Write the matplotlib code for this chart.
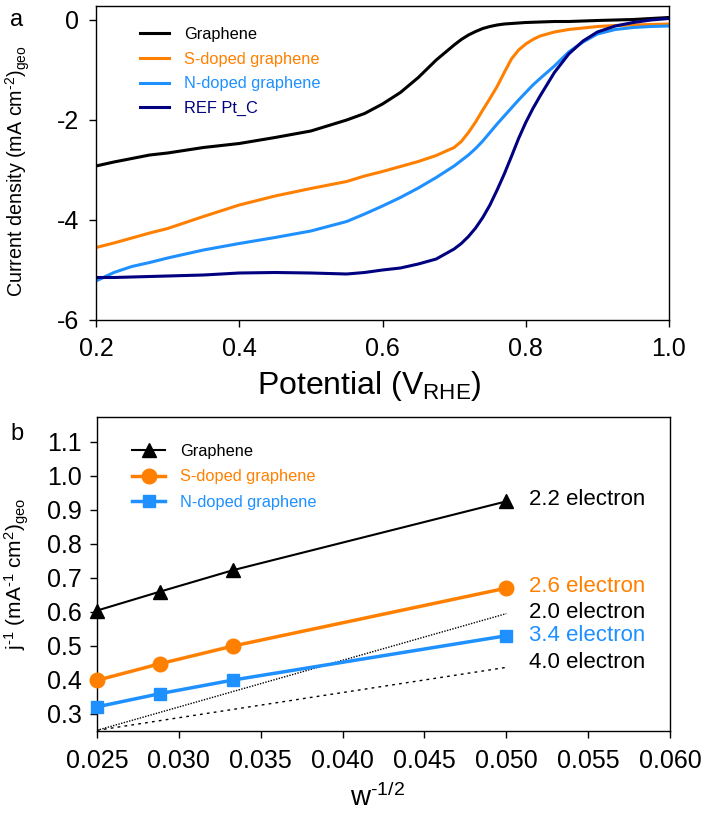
import matplotlib
matplotlib.use("Agg")
import matplotlib.pyplot as plt
import numpy as np

plt.rcParams['font.family'] = ['Liberation Sans', 'DejaVu Sans']
plt.rcParams['mathtext.fontset'] = 'custom'
plt.rcParams['mathtext.rm'] = 'Liberation Sans'
plt.rcParams['mathtext.it'] = 'Liberation Sans:italic'
plt.rcParams['mathtext.default'] = 'regular'
plt.rcParams['axes.unicode_minus'] = False

# ---------------- Panel a data (LSV) ----------------
potential = [0.20, 0.225, 0.25, 0.275, 0.30, 0.35, 0.40, 0.45, 0.50, 0.55, 0.575,
             0.60, 0.625, 0.65, 0.675, 0.70, 0.71, 0.72, 0.73, 0.74, 0.75, 0.76,
             0.77, 0.78, 0.79, 0.80, 0.81, 0.82, 0.84, 0.86, 0.88, 0.90, 0.925,
             0.95, 0.975, 1.00]
graphene_j = [-2.92, -2.84, -2.77, -2.70, -2.66, -2.55, -2.47, -2.35, -2.22, -2.00, -1.87,
              -1.68, -1.45, -1.15, -0.80, -0.50, -0.39, -0.30, -0.23, -0.17, -0.13, -0.10,
              -0.08, -0.07, -0.06, -0.05, -0.045, -0.04, -0.03, -0.03, -0.02, -0.01, 0.00,
              0.01, 0.03, 0.05]
s_doped_j = [-4.55, -4.46, -4.36, -4.26, -4.17, -3.93, -3.70, -3.52, -3.37, -3.23, -3.12,
             -3.03, -2.93, -2.83, -2.71, -2.55, -2.43, -2.25, -2.04, -1.80, -1.57, -1.33,
             -1.05, -0.78, -0.60, -0.48, -0.39, -0.32, -0.24, -0.19, -0.16, -0.13, -0.11,
             -0.10, -0.09, -0.08]
n_doped_j = [-5.22, -5.05, -4.93, -4.85, -4.76, -4.60, -4.47, -4.35, -4.22, -4.03, -3.88,
             -3.72, -3.55, -3.36, -3.15, -2.92, -2.81, -2.70, -2.57, -2.42, -2.25, -2.08,
             -1.92, -1.76, -1.60, -1.45, -1.30, -1.17, -0.92, -0.64, -0.44, -0.28, -0.19,
             -0.15, -0.13, -0.12]
pt_c_j = [-5.15, -5.15, -5.14, -5.13, -5.12, -5.10, -5.06, -5.05, -5.06, -5.08, -5.05,
          -5.00, -4.96, -4.88, -4.78, -4.58, -4.47, -4.33, -4.16, -3.95, -3.70, -3.40,
          -3.08, -2.73, -2.37, -2.05, -1.77, -1.52, -1.05, -0.68, -0.42, -0.24, -0.12,
          -0.05, 0.00, 0.03]
lsv_labels = ["Graphene", "S-doped graphene", "N-doped graphene", "REF Pt_C"]

# ---------------- Panel b data (K-L) ----------------
w_inv_sqrt = [0.025, 0.02887, 0.03333, 0.05]
kl_graphene = [0.604, 0.660, 0.723, 0.925]
kl_s_doped = [0.399, 0.448, 0.500, 0.670]
kl_n_doped = [0.321, 0.360, 0.400, 0.530]
theory_x = [0.025, 0.05]
theory_2e = [0.252, 0.595]
theory_4e = [0.252, 0.437]
kl_labels = ["Graphene", "S-doped graphene", "N-doped graphene"]
electron_labels = ["2.2 electron", "2.6 electron", "2.0 electron", "3.4 electron", "4.0 electron"]
electron_y = [0.930, 0.675, 0.598, 0.530, 0.450]

C_BLACK = '#000000'
C_ORANGE = '#FF8000'
C_BLUE = '#1E90FF'
C_NAVY = '#000080'
HY = '\u2010'  # hyphen used in superscripts

fig = plt.figure(figsize=(7.06, 8.14), dpi=100)
W, H = 706, 814

def px_axes(l, t, r, b):
    return fig.add_axes([l / W, 1 - b / H, (r - l) / W, (b - t) / H])

# ---------------- Panel a ----------------
ax1 = px_axes(96, 6, 669, 320)
lw = 2.2
ax1.plot(potential, graphene_j, color=C_BLACK, lw=lw, label=lsv_labels[0])
ax1.plot(potential, s_doped_j, color=C_ORANGE, lw=lw, label=lsv_labels[1])
ax1.plot(potential, n_doped_j, color=C_BLUE, lw=lw, label=lsv_labels[2])
ax1.plot(potential, pt_c_j, color=C_NAVY, lw=lw, label=lsv_labels[3])
ax1.set_xlim(0.2, 1.0)
ax1.set_ylim(-6, 0.28)
ax1.set_xticks([0.2, 0.4, 0.6, 0.8, 1.0])
ax1.set_xticklabels(['0.2', '0.4', '0.6', '0.8', '1.0'])
ax1.set_yticks([-6, -4, -2, 0])
ax1.set_yticklabels(['-6', '-4', '-2', '0'])
ax1.tick_params(direction='out', length=5, width=1, labelsize=18)
ax1.tick_params(axis='x', pad=7)
ax1.tick_params(axis='y', pad=7)
ax1.set_xlabel(r'Potential (V$_{\rm RHE}$)', fontsize=23)
ax1.xaxis.set_label_coords(0.477, -0.155)
ax1.set_ylabel('Current density (mA cm$^{' + HY + '2}$)$_{\\rm geo}$', fontsize=14.2)
ax1.yaxis.set_label_coords(-0.112, 0.475)
leg1 = ax1.legend(loc='upper left', bbox_to_anchor=(0.065, 0.955), frameon=False,
                  fontsize=11.8, handlelength=1.8, handletextpad=0.9,
                  labelspacing=0.6, borderaxespad=0, labelcolor='linecolor')
for sp in ax1.spines.values():
    sp.set_linewidth(1)
fig.text(10 / W, 1 - 20 / H, 'a', fontsize=17, va='center', ha='left')

# ---------------- Panel b ----------------
ax2 = px_axes(97, 417, 670, 731)
ax2.plot(theory_x, theory_2e, color=C_BLACK, lw=1.0, ls=(0, (1, 1)))
ax2.plot(theory_x, theory_4e, color=C_BLACK, lw=1.0, ls=(0, (2, 3)))
ax2.plot(w_inv_sqrt, kl_graphene, color=C_BLACK, lw=1.5, marker='^', ms=10.5,
         label=kl_labels[0], clip_on=False, zorder=5)
ax2.plot(w_inv_sqrt, kl_s_doped, color=C_ORANGE, lw=2.5, marker='o', ms=10.5,
         label=kl_labels[1], clip_on=False, zorder=5)
ax2.plot(w_inv_sqrt, kl_n_doped, color=C_BLUE, lw=2.5, marker='s', ms=9,
         label=kl_labels[2], clip_on=False, zorder=5)
ax2.set_xlim(0.025, 0.060)
ax2.set_ylim(0.25, 1.173)
ax2.set_xticks(np.arange(0.025, 0.0601, 0.005))
ax2.set_xticklabels(['%.3f' % v for v in np.arange(0.025, 0.0601, 0.005)])
ax2.set_yticks(np.arange(0.3, 1.101, 0.1))
ax2.set_yticklabels(['%.1f' % v for v in np.arange(0.3, 1.101, 0.1)])
ax2.tick_params(direction='out', length=5, width=1, labelsize=18)
ax2.tick_params(axis='x', pad=8)
ax2.tick_params(axis='y', pad=6)
ax2.set_xlabel('w$^{' + HY + '1/2}$', fontsize=20)
ax2.xaxis.set_label_coords(0.49, -0.168)
ax2.set_ylabel('j$^{' + HY + '1}$ (mA$^{' + HY + '1}$ cm$^{2}$)$_{\\rm geo}$', fontsize=15)
ax2.yaxis.set_label_coords(-0.115, 0.5)
leg2 = ax2.legend(loc='upper left', bbox_to_anchor=(0.05, 0.935), frameon=False,
                  fontsize=11.8, handlelength=2.0, handletextpad=0.9,
                  labelspacing=0.64, borderaxespad=0, labelcolor='linecolor')
electron_colors = [C_BLACK, C_ORANGE, C_BLACK, C_BLUE, C_BLACK]
for txt, yv, col in zip(electron_labels, electron_y, electron_colors):
    ax2.text(0.0514, yv, txt, color=col, fontsize=16, va='center', ha='left')
for sp in ax2.spines.values():
    sp.set_linewidth(1)
fig.text(10 / W, 1 - 434 / H, 'b', fontsize=17, va='center', ha='left')

fig.savefig('out.png', dpi=100)
